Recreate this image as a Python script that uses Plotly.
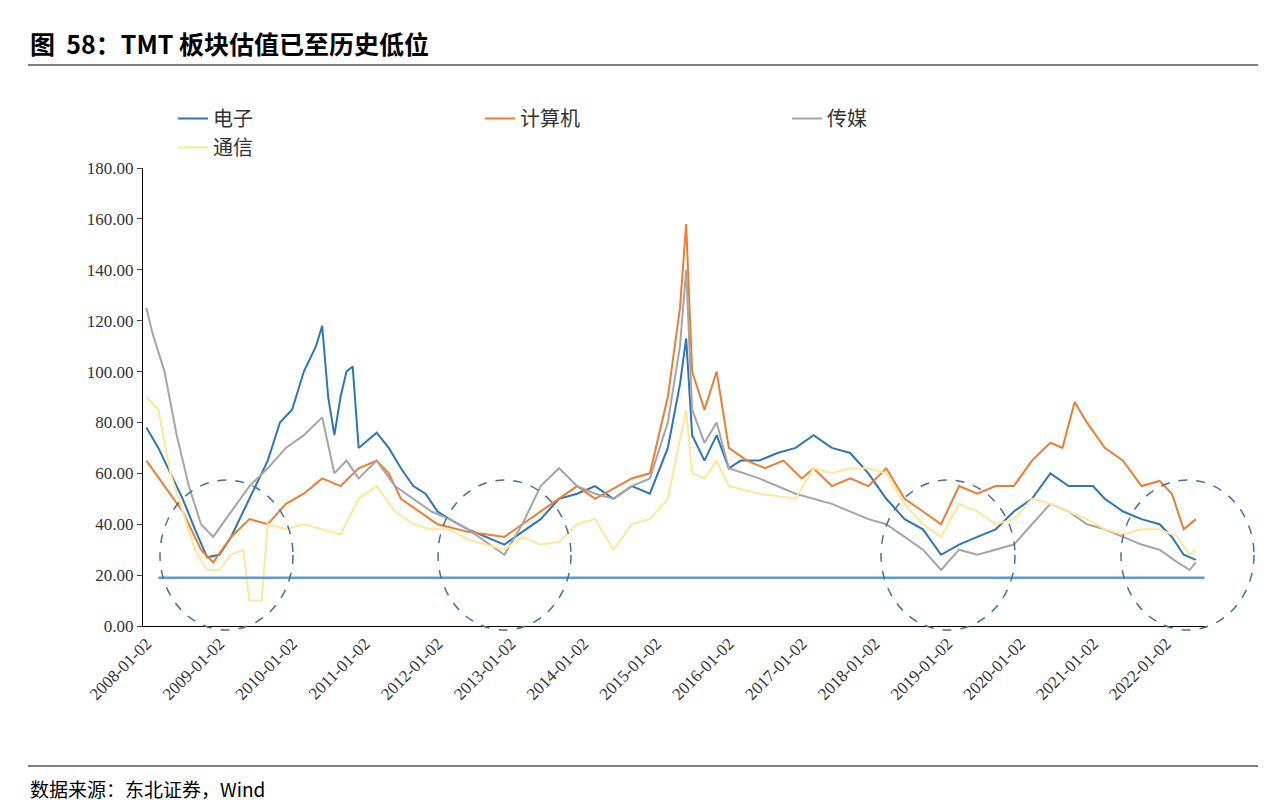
import plotly.graph_objects as go

dz_d = ["2008-01","2008-03","2008-05","2008-07","2008-09","2008-11","2009-01","2009-03","2009-05","2009-07","2009-09","2009-11","2010-01","2010-03","2010-05","2010-06","2010-07","2010-08","2010-09","2010-10","2010-11","2010-12","2011-01","2011-03","2011-05","2011-07","2011-09","2011-11","2012-01","2012-03","2012-06","2012-09","2012-12","2013-03","2013-06","2013-09","2013-12","2014-03","2014-06","2014-09","2014-12","2015-03","2015-05","2015-06","2015-07","2015-09","2015-11","2016-01","2016-03","2016-06","2016-09","2016-12","2017-03","2017-06","2017-09","2017-12","2018-03","2018-06","2018-09","2018-12","2019-03","2019-06","2019-09","2019-12","2020-03","2020-06","2020-09","2021-01","2021-03","2021-06","2021-09","2021-12","2022-02","2022-04","2022-06"]
dz_v = [78,70,60,50,38,27,28,35,45,55,65,80,85,100,110,118,90,75,90,100,102,70,72,76,70,62,55,52,45,42,38,35,32,37,42,50,52,55,50,55,52,70,95,113,75,65,75,62,65,65,68,70,75,70,68,60,50,42,38,28,32,35,38,45,50,60,55,55,50,45,42,40,35,28,26]

jsj_d = ["2008-01","2008-04","2008-07","2008-10","2008-12","2009-03","2009-06","2009-09","2009-12","2010-03","2010-06","2010-09","2010-12","2011-03","2011-05","2011-07","2011-10","2012-01","2012-06","2012-12","2013-03","2013-06","2013-09","2013-12","2014-03","2014-09","2014-12","2015-03","2015-05","2015-06","2015-07","2015-09","2015-11","2016-01","2016-04","2016-07","2016-10","2017-01","2017-03","2017-06","2017-09","2017-12","2018-03","2018-06","2018-09","2018-12","2019-03","2019-06","2019-09","2019-12","2020-03","2020-06","2020-08","2020-10","2020-12","2021-03","2021-06","2021-09","2021-12","2022-02","2022-04","2022-06"]
jsj_v = [65,55,45,30,25,35,42,40,48,52,58,55,62,65,60,50,45,40,37,35,40,45,50,55,50,58,60,90,125,158,100,85,100,70,65,62,65,58,62,55,58,55,62,50,45,40,55,52,55,55,65,72,70,88,80,70,65,55,57,52,38,42]

cm_d = ["2008-01","2008-02","2008-04","2008-06","2008-08","2008-10","2008-12","2009-03","2009-06","2009-09","2009-12","2010-03","2010-06","2010-08","2010-10","2010-12","2011-03","2011-06","2011-09","2011-12","2012-03","2012-06","2012-09","2012-12","2013-03","2013-06","2013-09","2013-12","2014-03","2014-06","2014-09","2014-12","2015-03","2015-05","2015-06","2015-07","2015-09","2015-11","2016-01","2016-06","2016-12","2017-06","2017-12","2018-03","2018-06","2018-09","2018-12","2019-03","2019-06","2019-09","2019-12","2020-03","2020-06","2020-09","2020-12","2021-03","2021-06","2021-09","2021-12","2022-03","2022-05","2022-06"]
cm_v = [125,115,100,75,55,40,35,45,55,62,70,75,82,60,65,58,65,55,50,45,42,38,33,28,40,55,62,55,52,50,55,58,80,110,140,85,72,80,62,58,52,48,42,40,35,30,22,30,28,30,32,40,48,45,40,38,35,32,30,25,22,25]

tx_d = ["2008-01","2008-03","2008-05","2008-07","2008-09","2008-11","2009-01","2009-03","2009-05","2009-06","2009-08","2009-09","2009-12","2010-03","2010-06","2010-09","2010-12","2011-03","2011-06","2011-09","2011-12","2012-03","2012-06","2012-09","2012-12","2013-03","2013-06","2013-09","2013-12","2014-03","2014-06","2014-09","2014-12","2015-03","2015-06","2015-07","2015-09","2015-11","2016-01","2016-06","2016-12","2017-03","2017-06","2017-09","2017-12","2018-03","2018-06","2018-09","2018-12","2019-03","2019-06","2019-09","2019-12","2020-03","2020-06","2020-09","2020-12","2021-03","2021-06","2021-09","2021-12","2022-03","2022-05","2022-06"]
tx_v = [90,85,60,45,30,22,22,28,30,10,10,40,38,40,38,36,50,55,45,40,38,38,34,32,30,35,32,33,40,42,30,40,42,50,85,60,58,65,55,52,50,62,60,62,62,60,48,40,35,48,45,40,42,50,48,45,42,38,36,38,38,35,28,30]

tick_vals = ["%d-01-02" % y for y in range(2008, 2023)]
y_ticks = [0, 20, 40, 60, 80, 100, 120, 140, 160, 180]
floor_y = 19

L, T, R, B = 135, 160, 1200, 618
def px(x): return (x - L) / (R - L)
def py(y): return (B - y) / (B - T)

fig = go.Figure()
for name, d, v, c in [("电子", dz_d, dz_v, "#2E75B6"), ("计算机", jsj_d, jsj_v, "#ED7D31"),
                      ("传媒", cm_d, cm_v, "#A5A5A5"), ("通信", tx_d, tx_v, "#FFE699")]:
    fig.add_trace(go.Scatter(x=d, y=v, name=name, mode="lines", line=dict(color=c, width=2)))

fig.add_trace(go.Scatter(x=["2008-03-01", "2022-07-15"], y=[floor_y, floor_y], mode="lines",
                         line=dict(color="#5B9BD5", width=2.5), showlegend=False))

shapes = []
for (x0, x1) in [(152, 285), (430, 563), (873, 1007), (1113, 1246)]:
    shapes.append(dict(type="circle", xref="paper", yref="paper", x0=px(x0), x1=px(x1),
                       y0=py(622), y1=py(472), line=dict(color="#41719C", width=1.5, dash="dash")))
for yy in (57, 758):
    shapes.append(dict(type="line", xref="paper", yref="paper", x0=px(20), x1=px(1250),
                       y0=py(yy), y1=py(yy), line=dict(color="black", width=1.2)))

fig.update_layout(
    width=1272, height=800, margin=dict(l=L, r=1272 - R, t=T, b=800 - B),
    paper_bgcolor="white", plot_bgcolor="white", shapes=shapes,
    font=dict(family="Liberation Serif", size=17, color="#333"),
    legend=dict(orientation="h", x=px(165), y=py(125), yanchor="middle", xanchor="left",
                entrywidth=262, font=dict(family="Noto Sans CJK SC", size=20)),
    xaxis=dict(type="date", range=["2007-12-15", "2022-08-01"], tickvals=tick_vals, ticktext=tick_vals,
               tickangle=-45, showgrid=False, showline=True, linecolor="black", ticks="", zeroline=False,
               automargin=False),
    yaxis=dict(range=[0, 180], tickvals=y_ticks, ticktext=["%.2f" % t for t in y_ticks],
               showgrid=False, showline=True, linecolor="black", ticks="outside", ticklen=5, zeroline=False,
               automargin=False),
    annotations=[
        dict(xref="paper", yref="paper", x=px(20), y=py(35), xanchor="left", yanchor="middle", showarrow=False,
             text="<b>图  58：TMT 板块估值已至历史低位</b>", font=dict(family="Noto Sans CJK SC", size=25, color="black")),
        dict(xref="paper", yref="paper", x=px(20), y=py(780), xanchor="left", yanchor="middle", showarrow=False,
             text="数据来源：东北证券，Wind", font=dict(family="Noto Sans CJK SC", size=19, color="black")),
    ],
)
fig.write_html("out.html")
